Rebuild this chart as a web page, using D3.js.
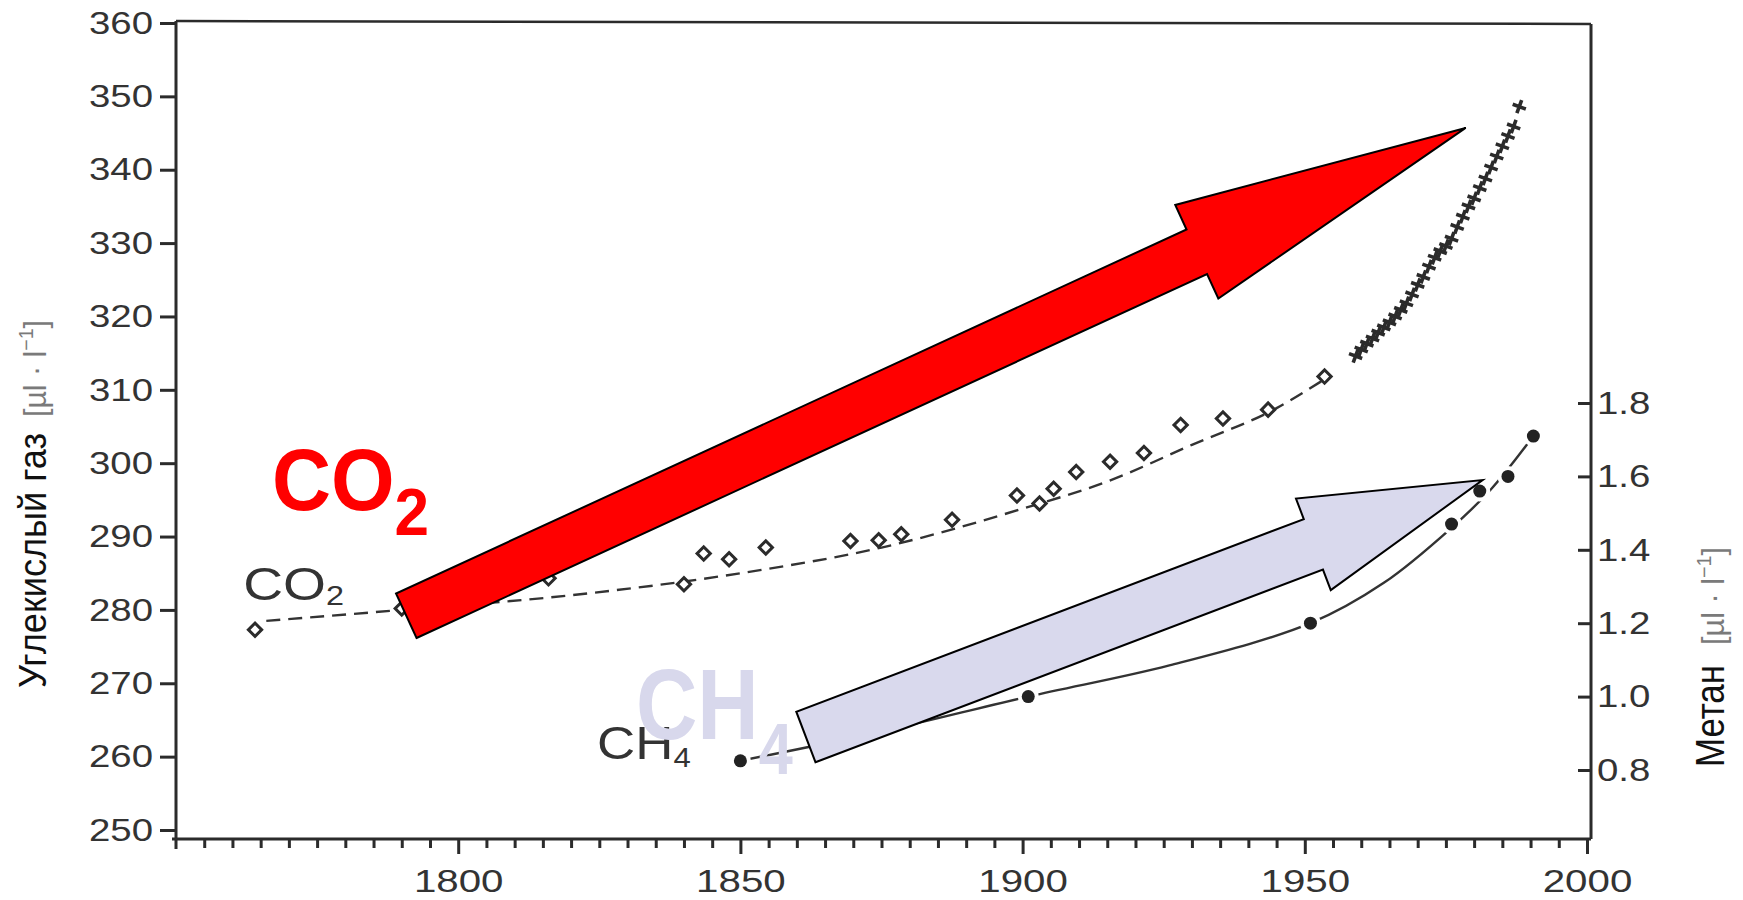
<!DOCTYPE html>
<html>
<head>
<meta charset="utf-8">
<script src="https://cdn.jsdelivr.net/npm/d3@7"></script>
<style>
  html, body { margin: 0; padding: 0; background: #fff; }
  svg { display: block; }
</style>
</head>
<body>
<svg id="chart" width="1743" height="900"></svg>
<script>
// Atmospheric carbon dioxide and methane, 1750–2000

// CO2 from ice cores (open diamonds)
const co2Years  = [1764, 1790, 1816, 1840, 1843.5, 1848, 1854.5, 1869.5, 1874.5, 1878.5, 1887.5, 1899, 1903, 1905.5, 1909.5, 1915.5, 1921.5, 1928, 1935.5, 1943.5, 1953.5];
const co2Values = [277.3, 280.2, 284.3, 283.5, 287.7, 286.9, 288.5, 289.4, 289.5, 290.3, 292.3, 295.6, 294.5, 296.5, 298.8, 300.2, 301.4, 305.2, 306.1, 307.3, 311.8];

// smoothed CO2 trend (dashed)
const co2TrendYears  = [1766, 1790, 1820, 1850, 1875, 1900, 1915, 1930, 1945, 1953];
const co2TrendValues = [278.5, 280.0, 282.0, 285.0, 288.5, 293.8, 297.5, 302.5, 307.5, 311.2];

// direct atmospheric CO2 measurements (crosses)
const directYears  = [1959, 1960, 1961, 1962, 1963, 1964, 1965, 1966, 1967, 1968, 1969, 1970, 1971, 1972, 1973, 1974, 1975, 1976, 1977, 1978, 1979, 1980, 1981, 1982, 1983, 1984, 1985, 1986, 1987, 1988];
const directValues = [314.6, 315.5, 316.3, 317.0, 317.8, 318.5, 319.2, 320.0, 320.9, 321.8, 323.0, 324.3, 325.4, 326.8, 328.0, 328.9, 329.6, 330.6, 332.2, 333.6, 335.0, 336.1, 337.5, 338.8, 340.3, 341.8, 343.2, 344.6, 345.9, 348.6];

// methane (filled dots) and its trend
const ch4Years  = [1850, 1901, 1951, 1976, 1981, 1986, 1990.5];
const ch4Values = [0.825, 1.0, 1.2, 1.47, 1.56, 1.60, 1.71];
const ch4TrendYears  = [1850, 1875, 1901, 1926, 1951, 1964, 1976, 1983, 1990.5];
const ch4TrendValues = [0.825, 0.905, 1.0, 1.085, 1.2, 1.31, 1.46, 1.565, 1.71];

// axis ticks
const co2Ticks  = [250, 260, 270, 280, 290, 300, 310, 320, 330, 340, 350, 360];
const ch4Ticks  = [0.8, 1.0, 1.2, 1.4, 1.6, 1.8];
const yearTicks = [1800, 1850, 1900, 1950, 2000];
const minorYearTicks = d3.range(1755, 2000, 5).filter(v => v % 50 !== 0);

// trend arrows: [year, value] of tail centre and tip
const co2ArrowTail = [1790.8, 279.2];
const co2ArrowTip  = [1978.5, 345.7];
const ch4ArrowTail = [1861.6, 0.89];
const ch4ArrowTip  = [1981.5, 1.59];

const svg = d3.select("#chart");
const x  = d3.scaleLinear([1750, 2000], [176, 1587]);
const y  = d3.scaleLinear([250, 360], [830, 23]);
const y2 = d3.scaleLinear([0.8, 1.8], [770, 403]);

const ink = "#2b2b2b";
const sans = "'Liberation Sans', Arial, sans-serif";

const leftX = x(1750);
const rightX = x(2000) + 4;
const bottomY = y(250) + 9;
const topY = y(360) - 2;

// frame
const frame = svg.append("g").attr("fill", "none").attr("stroke", ink).attr("stroke-width", 3);
frame.append("path").attr("d", `M${leftX},${topY}V${bottomY + 10}`);
frame.append("path").attr("d", `M${leftX - 4},${bottomY}H${rightX}`);
frame.append("path").attr("d", `M${rightX},${topY + 3}V${bottomY}`);
frame.append("path").attr("d", `M${leftX},${topY}L${rightX},${topY + 3}`).attr("stroke-width", 2.5);

function styleAxis(g, sx, textX) {
  g.select(".domain").remove();
  g.selectAll(".tick line").attr("stroke", ink).attr("stroke-width", 3);
  g.selectAll(".tick text")
    .attr("fill", "#333")
    .attr("font-family", sans)
    .attr("transform", `scale(${sx},1)`);
  if (textX !== null) g.selectAll(".tick text").attr("x", textX / sx);
}

// left axis (CO2)
const leftAxis = svg.append("g")
  .attr("transform", `translate(${leftX},0)`)
  .call(d3.axisLeft(y).tickValues(co2Ticks).tickSize(16).tickPadding(7));
leftAxis.attr("font-size", 32);
styleAxis(leftAxis, 1.2, -23);

// right axis (CH4), ticks pointing inward
const rightAxis = svg.append("g")
  .attr("transform", `translate(${rightX},0)`)
  .call(d3.axisRight(y2).tickValues(ch4Ticks).tickSizeInner(-13).tickSizeOuter(0)
    .tickPadding(7).tickFormat(d3.format(".1f")));
rightAxis.attr("font-size", 32);
styleAxis(rightAxis, 1.2, 6);

// bottom axis: minor and major ticks
const minorAxis = svg.append("g")
  .attr("transform", `translate(0,${bottomY})`)
  .call(d3.axisBottom(x).tickValues(minorYearTicks).tickSize(9).tickFormat(""));
styleAxis(minorAxis, 1, null);
const bottomAxis = svg.append("g")
  .attr("transform", `translate(0,${bottomY})`)
  .call(d3.axisBottom(x).tickValues(yearTicks).tickSize(15).tickPadding(16).tickFormat(d3.format("d")));
bottomAxis.attr("font-size", 31);
styleAxis(bottomAxis, 1.3, null);

// axis titles
function axisTitle(tx, ty, name, size, nameLen, unitStart, unitLen) {
  svg.append("text")
    .attr("transform", `translate(${tx},${ty}) rotate(-90)`)
    .attr("font-family", sans).attr("font-size", size).attr("fill", "#111")
    .attr("textLength", nameLen).attr("lengthAdjust", "spacingAndGlyphs")
    .text(name);
  const u = svg.append("text")
    .attr("transform", `translate(${tx},${ty}) rotate(-90)`)
    .attr("font-family", sans).attr("fill", "#7a7a7a").attr("font-size", 31)
    .attr("x", unitStart)
    .attr("textLength", unitLen).attr("lengthAdjust", "spacingAndGlyphs");
  u.append("tspan").text("[µl · l");
  u.append("tspan").attr("font-size", 20).attr("dy", -13).text("−1");
  u.append("tspan").attr("dy", 13).text("]");
}
axisTitle(46, 688, "Углекислый газ", 38, 255, 271, 97);
axisTitle(1724, 767, "Метан", 41, 102, 122, 98);

// CO2 trend
svg.append("path")
  .attr("d", d3.line().curve(d3.curveMonotoneX)(co2TrendYears.map((d, i) => [x(d), y(co2TrendValues[i])])))
  .attr("fill", "none").attr("stroke", "#333").attr("stroke-width", 2.4).attr("stroke-dasharray", "14,8");

// CO2 diamonds
svg.append("g").selectAll("path").data(co2Years).join("path")
  .attr("d", d3.symbol(d3.symbolSquare, 88)())
  .attr("transform", (d, i) => `translate(${x(d)},${y(co2Values[i])}) rotate(45)`)
  .attr("fill", "#fff").attr("stroke", ink).attr("stroke-width", 3);

// direct measurements
svg.append("g").selectAll("path").data(directYears).join("path")
  .attr("d", "M-7,0H7M0,-7V7")
  .attr("transform", (d, i) => `translate(${x(d)},${y(directValues[i])}) rotate(20)`)
  .attr("fill", "none").attr("stroke", ink).attr("stroke-width", 3.6);

// CH4 trend and dots
svg.append("path")
  .attr("d", d3.line().curve(d3.curveCatmullRom.alpha(0.5))(ch4TrendYears.map((d, i) => [x(d), y2(ch4TrendValues[i])])))
  .attr("fill", "none").attr("stroke", "#333").attr("stroke-width", 2.4);
svg.append("g").selectAll("circle").data(ch4Years).join("circle")
  .attr("cx", d => x(d)).attr("cy", (d, i) => y2(ch4Values[i])).attr("r", 6.5)
  .attr("fill", "#222").attr("stroke", "#fff").attr("stroke-width", 8)
  .style("paint-order", "stroke");

// series labels
function seriesLabel(px, py, main, sub, size, subSize, subDy, sx, fill, weight) {
  const t = svg.append("text")
    .attr("transform", `translate(${px},${py}) scale(${sx},1)`)
    .attr("font-family", sans)
    .attr("font-weight", weight).attr("fill", fill).attr("font-size", size);
  t.append("tspan").text(main);
  t.append("tspan").attr("font-size", subSize).attr("dy", subDy).text(sub);
}
seriesLabel(x(1761.9), y(281.35), "CO", "2", 46, 27, 5, 1.2, "#333", 400);
seriesLabel(x(1824.6), y2(0.83), "CH", "4", 46, 27, 8, 1.15, "#333", 400);

// trend arrows
function arrow(tail, tip, w, hw, hl, fill) {
  const L = Math.hypot(tip[0] - tail[0], tip[1] - tail[1]);
  const u = [(tip[0] - tail[0]) / L, (tip[1] - tail[1]) / L];
  const n = [-u[1], u[0]];
  const base = [tip[0] - u[0] * hl, tip[1] - u[1] * hl];
  const p = (o, k) => [o[0] + n[0] * k, o[1] + n[1] * k];
  const pts = [p(tail, w / 2), p(base, w / 2), p(base, hw / 2), tip, p(base, -hw / 2), p(base, -w / 2), p(tail, -w / 2)];
  svg.append("polygon")
    .attr("points", pts.map(q => q.join(",")).join(" "))
    .attr("fill", fill).attr("stroke", "#000").attr("stroke-width", 2).attr("stroke-linejoin", "miter");
}

seriesLabel(x(1831.5), y2(0.885), "CH", "4", 100, 72, 35, 0.85, "#d8d8ec", 700);
arrow([x(ch4ArrowTail[0]), y2(ch4ArrowTail[1])], [x(ch4ArrowTip[0]), y2(ch4ArrowTip[1])], 54, 98, 181, "#d9d9ed");
arrow([x(co2ArrowTail[0]), y(co2ArrowTail[1])], [x(co2ArrowTip[0]), y(co2ArrowTip[1])], 49, 103, 296, "#ff0000");
seriesLabel(x(1767), y(293.6), "CO", "2", 87, 66, 25, 0.94, "#ff0000", 700);
</script>
</body>
</html>
